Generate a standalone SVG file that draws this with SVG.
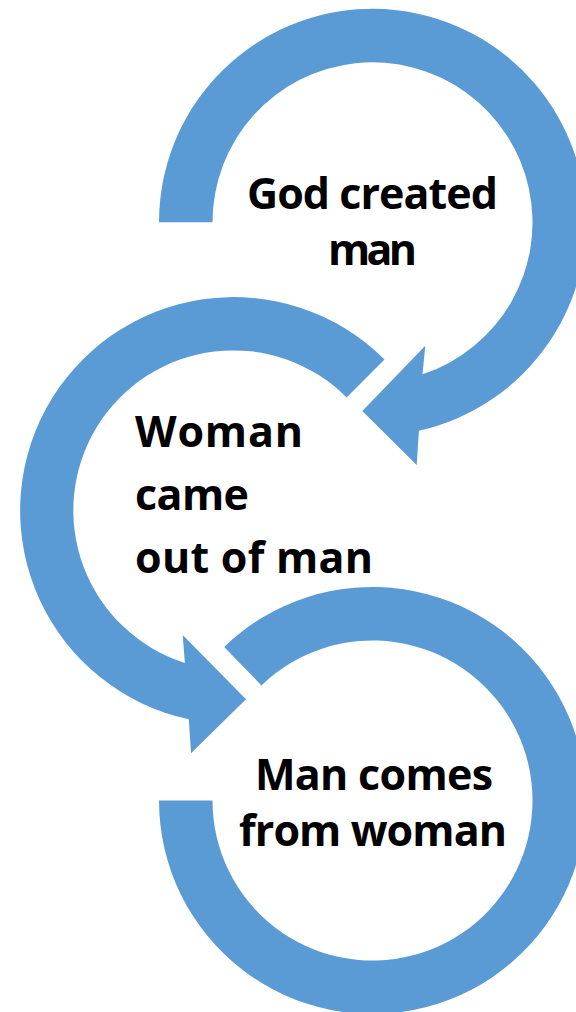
<svg xmlns="http://www.w3.org/2000/svg" width="576" height="1012" viewBox="0 0 576 1012">
  <style>
    .arrow { fill: #5B9BD5; stroke: none; }
    .label { font-family: "Open Sans", "Liberation Sans", sans-serif; font-weight: 700; font-size: 43px; fill: #000000; }
    .mid { text-anchor: middle; }
  </style>
  <rect width="576" height="1012" fill="#FFFFFF"/>
  <g id="connectors">
    <path id="arrow1" class="arrow" d="M 159 222.3 A 213.5 213.5 0 1 1 418.9 430.7 L 416.7 465 L 362.3 411 L 425.3 345.7 L 422.5 374.3 A 160 160 0 1 0 212.5 222.3 Z"/>
    <path id="arrow2" class="arrow" d="M 384.5 359.5 A 213.5 213.5 0 1 0 188.8 719.3 L 191 753.3 L 246 699.3 L 182.7 635 L 184.9 662.9 A 160 160 0 1 1 346.6 397.4 Z"/>
    <path id="arrow3" class="arrow" d="M 224.2 646.9 A 213.5 213.5 0 1 1 159 800.5 L 212.5 800.5 A 160 160 0 1 0 261.4 685.4 Z"/>
  </g>
  <g id="node1">
    <text class="label mid" x="372.5" y="209" textLength="251" lengthAdjust="spacing">God created</text>
    <text class="label mid" x="372.5" y="265" textLength="89" lengthAdjust="spacing">man</text>
  </g>
  <g id="node2">
    <text class="label" x="135" y="447" textLength="168" lengthAdjust="spacing">Woman</text>
    <text class="label" x="135" y="510" textLength="114" lengthAdjust="spacing">came</text>
    <text class="label" x="135" y="573" textLength="238" lengthAdjust="spacing">out of man</text>
  </g>
  <g id="node3">
    <text class="label mid" x="374" y="790" textLength="238" lengthAdjust="spacing">Man comes</text>
    <text class="label mid" x="373" y="846" textLength="268" lengthAdjust="spacing">from woman</text>
  </g>
</svg>
